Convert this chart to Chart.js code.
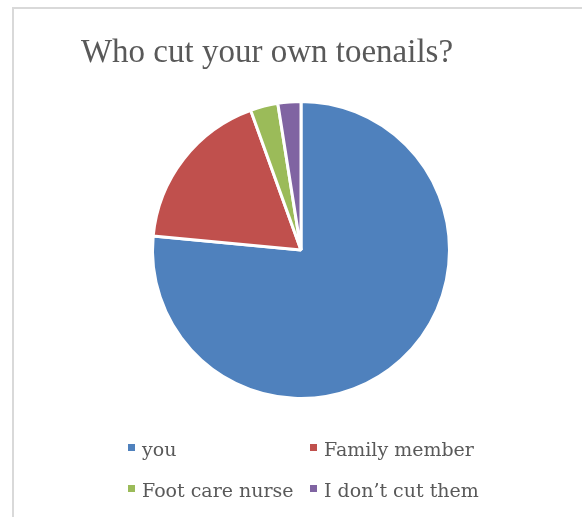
<!DOCTYPE html>
<html>
<head>
<meta charset="utf-8">
<script src="https://cdn.jsdelivr.net/npm/chart.js@4"></script>
<style>
    html, body { margin: 0; padding: 0; background: #fff; }
    #wrap { position: relative; width: 582px; height: 517px; overflow: hidden; }
    #frame {
        position: absolute; left: 12px; top: 7px; width: 600px; height: 540px;
        border-left: 2px solid #d9d9d9; border-top: 2px solid #d9d9d9;
    }
    #pieChart { position: absolute; left: 0; top: 0; }
</style>
</head>
<body>
<div id="wrap">
    <div id="frame"></div>
    <canvas id="pieChart" width="582" height="517"></canvas>
</div>
<script>
// Data
const chartTitle = 'Who cut your own toenails?';
const categories = ['you', 'Family member', 'Foot care nurse', 'I don\u2019t cut them'];
const shares = [76.5, 18, 3, 2.5];
const sliceColors = ['#4f81bd', '#c0504d', '#9bbb59', '#8064a2'];

// Title drawn off-centre like the original
const titlePlugin = {
    id: 'offsetTitle',
    afterDraw(chart) {
        const ctx = chart.ctx;
        ctx.save();
        ctx.font = '33px "Liberation Serif", serif';
        ctx.fillStyle = '#595959';
        ctx.textAlign = 'center';
        ctx.textBaseline = 'alphabetic';
        ctx.fillText(chartTitle, 267, 62);
        ctx.restore();
    }
};

// Two-column legend under the pie
const legendPlugin = {
    id: 'gridLegend',
    afterDraw(chart) {
        const ctx = chart.ctx;
        const colX = [128, 310];
        const rowY = [456, 497];
        ctx.save();
        ctx.font = '19px "DejaVu Serif", serif';
        ctx.textBaseline = 'alphabetic';
        ctx.textAlign = 'left';
        categories.forEach((label, i) => {
            const x = colX[i % 2];
            const y = rowY[Math.floor(i / 2)];
            ctx.fillStyle = sliceColors[i];
            ctx.fillRect(x, y - 12, 7, 7);
            ctx.fillStyle = '#595959';
            ctx.fillText(label, x + 14, y);
        });
        ctx.restore();
    }
};

new Chart(document.getElementById('pieChart').getContext('2d'), {
    type: 'pie',
    data: {
        labels: categories,
        datasets: [{
            data: shares,
            backgroundColor: sliceColors,
            borderColor: '#ffffff',
            borderWidth: 3
        }]
    },
    options: {
        responsive: false,
        animation: false,
        layout: {
            padding: { top: 100, bottom: 117, left: 20, right: 0 }
        },
        plugins: {
            legend: { display: false },
            title: { display: false },
            tooltip: { enabled: false }
        }
    },
    plugins: [titlePlugin, legendPlugin]
});
</script>
</body>
</html>
